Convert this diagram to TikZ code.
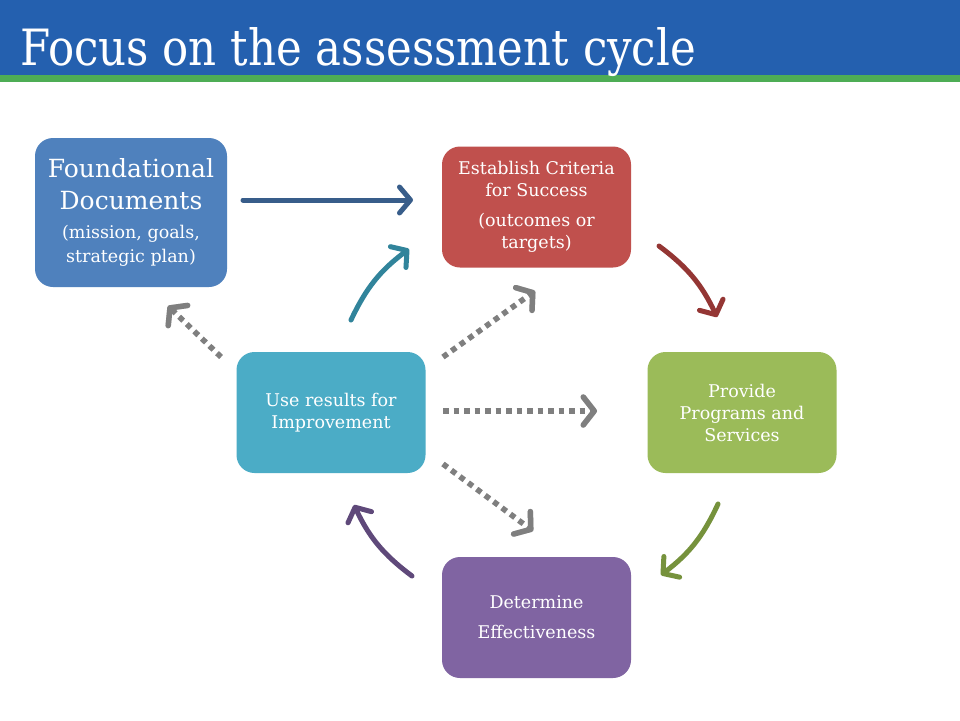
\documentclass[tikz,border=0pt]{standalone}
\usepackage{fontspec}
\setmainfont{DejaVu Serif}
\usetikzlibrary{arrows.meta}
\definecolor{hdrblue}{HTML}{2460AF}
\definecolor{hdrgreen}{HTML}{4EAD55}
\definecolor{cBlue}{HTML}{4F81BD}
\definecolor{cRed}{HTML}{C0504D}
\definecolor{cGreen}{HTML}{9BBB59}
\definecolor{cPurple}{HTML}{8064A2}
\definecolor{cTeal}{HTML}{4BACC6}
\definecolor{aBlue}{HTML}{385D8A}
\definecolor{aRed}{HTML}{943634}
\definecolor{aGreen}{HTML}{76923C}
\definecolor{aPurple}{HTML}{5F497A}
\definecolor{aTeal}{HTML}{31849B}
\definecolor{aGray}{HTML}{7F7F7F}
\begin{document}
\begin{tikzpicture}[x=1pt,y=-1pt,
  box/.style={rounded corners=18pt, minimum width=189pt, minimum height=121pt,
    text=white, align=center, inner sep=0pt, font=\fontsize{17.5}{22}\selectfont},
  cyc/.style={line width=5pt, line cap=round,
    -{Straight Barb[length=11pt,width=26pt,round]}},
  dots/.style={line width=5.5pt, aGray, dash pattern=on 5.5pt off 5pt,
    -{Straight Barb[length=11pt,width=28pt,round]}},
  shadowdots/.style={line width=5.5pt, black!18, dash pattern=on 5.5pt off 5pt,
    -{Straight Barb[length=11pt,width=28pt,round]}, shift={(1.5,2)}}
]
\useasboundingbox (0,0) rectangle (960,720);
\fill[white] (0,0) rectangle (960,720);
\fill[hdrblue] (0,0) rectangle (960,75);
\fill[hdrgreen] (0,75) rectangle (960,82);
\node[anchor=base west, text=white, inner sep=0pt,
  font=\fontsize{50}{50}\selectfont] (title) at (20,65)
  {\scalebox{0.87}[1]{Focus on the assessment cycle}};

% boxes
\node[box, fill=cBlue, minimum width=192pt, minimum height=149pt,
  font=\fontsize{17.5}{24}\selectfont] (found) at (131,212.5)
  {\fontsize{25}{24}\selectfont Foundational\\[8pt]
   \fontsize{25}{24}\selectfont Documents\\[5pt]
   (mission, goals,\\
   strategic plan)};
\node[box, fill=cRed] (crit) at (536.5,207)
  {Establish Criteria\\ for Success\\[8pt] (outcomes or\\ targets)};
\node[box, fill=cGreen] (prov) at (742,412.5)
  {Provide\\ Programs and\\ Services};
\node[box, fill=cTeal] (use) at (331,412.5)
  {Use results for\\ Improvement};
\node[box, fill=cPurple] (det) at (536.5,617.5)
  {Determine\\[8pt] Effectiveness};

% connector end points
\coordinate (bS) at (243,200);
\coordinate (bE) at (413,200);
\coordinate (tS) at (351,320);
\coordinate (tE) at (409,249);
\coordinate (rS) at (659,246);
\coordinate (rE) at (717,317);
\coordinate (gS) at (718,504);
\coordinate (gE) at (661,575);
\coordinate (pS) at (412,576);
\coordinate (pE) at (354,505);
\coordinate (d1S) at (221,357);
\coordinate (d1E) at (168,306);
\coordinate (d2S) at (443,357);
\coordinate (d2E) at (535,291);
\coordinate (d3S) at (443,411);
\coordinate (d3E) at (597,411);
\coordinate (d4S) at (443,464);
\coordinate (d4E) at (533,531);

% cycle arrows
\draw[cyc, aBlue] (bS) -- (bE);
\draw[cyc, aTeal] (tS) to[bend left=14] (tE);
\draw[cyc, aRed] (rS) to[bend left=14] (rE);
\draw[cyc, aGreen] (gS) to[bend left=14] (gE);
\draw[cyc, aPurple] (pS) to[bend left=14] (pE);

% dotted arrows
\foreach \s/\e in {d1S/d1E, d2S/d2E, d3S/d3E, d4S/d4E}{
  \draw[shadowdots] (\s) -- (\e);
  \draw[dots] (\s) -- (\e);
}
\end{tikzpicture}
\end{document}
